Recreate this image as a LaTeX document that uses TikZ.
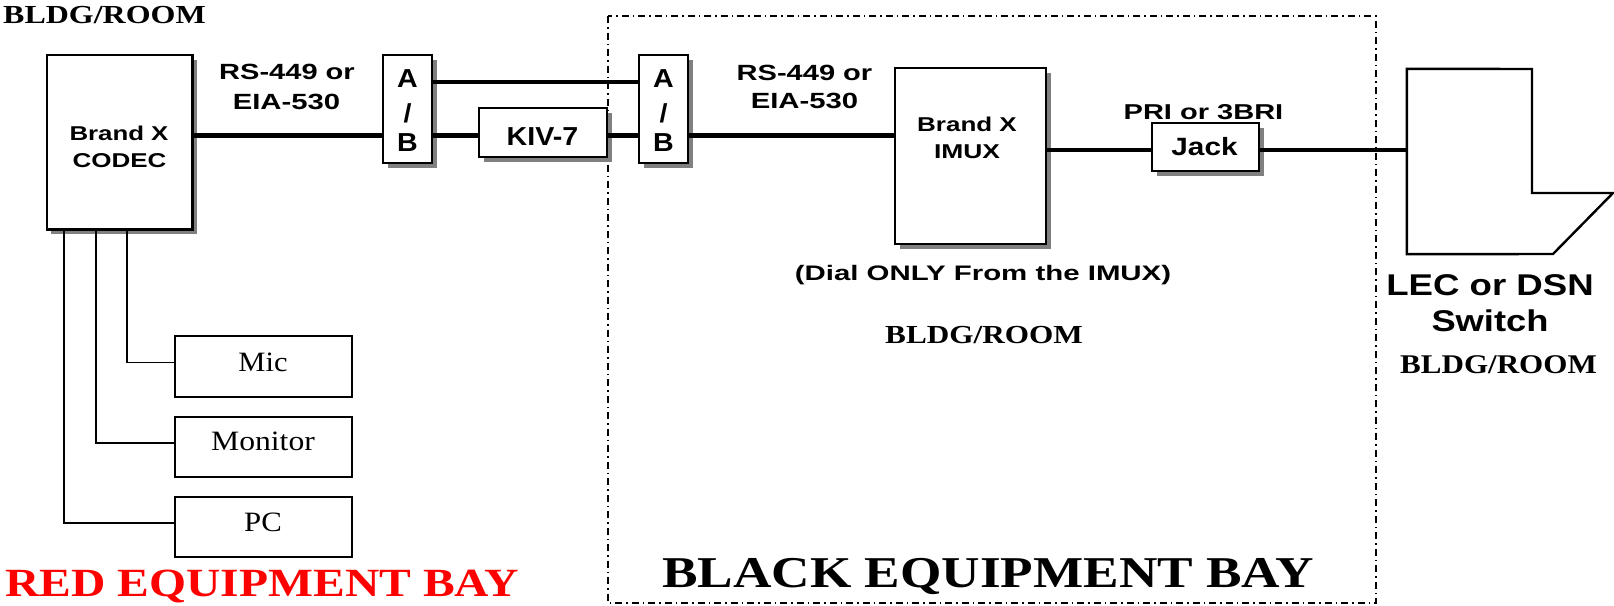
\documentclass[tikz,border=0pt]{standalone}
\usepackage{fontspec}
\usepackage{graphicx}
\usetikzlibrary{shadows}
\newfontfamily\serfont{Liberation Serif}
\newfontfamily\sanfont{Liberation Sans}
\newcommand{\hsc}[2]{\scalebox{#1}[1]{#2}}
\newcommand{\fsz}[1]{\fontsize{#1}{#1}\selectfont}
\begin{document}
\begin{tikzpicture}[x=1pt,y=-1pt,
  conn/.style={line width=4.2pt},
  wire/.style={line width=1.7pt},
  shbox/.style={draw, line width=2.4pt, fill=white, rectangle, inner sep=0pt,
     drop shadow={shadow xshift=4.5pt, shadow yshift=-4.5pt, fill=black!50, opacity=1}},
  plainbox/.style={draw, line width=2.4pt, fill=white, rectangle, inner sep=0pt},
  lbl/.style={inner sep=0pt, anchor=base},
  sans/.style={lbl, font=\sanfont\bfseries},
  serb/.style={lbl, font=\serfont\bfseries},
  serr/.style={lbl, font=\serfont},
  bay/.style={line width=1.3pt, dash pattern=on 7pt off 4pt on 1.5pt off 4pt},
  swline/.style={line width=2.4pt, line join=miter},
]
\useasboundingbox (0,0) rectangle (1614,605);

% black equipment bay boundary
\draw[bay] (608,16) rectangle (1376,603);

% routing coordinates
\coordinate (bus) at (0,135.5);
\coordinate (top) at (0,81.7);
\coordinate (isdn) at (0,150);

% boxes
\node[shbox, minimum width=145.6pt, minimum height=174.3pt] (codec) at (119.5,142.2) {};
\node[shbox, minimum width=49pt, minimum height=108pt] (ab1) at (407.5,109) {};
\node[shbox, minimum width=128pt, minimum height=49pt] (kiv) at (543,132.5) {};
\node[shbox, minimum width=49pt, minimum height=108pt] (ab2) at (663.5,109) {};
\node[shbox, minimum width=151pt, minimum height=176pt] (imux) at (970.5,156) {};
\node[shbox, minimum width=107pt, minimum height=48pt] (jack) at (1205.5,147) {};
\node[plainbox, minimum width=177pt, minimum height=61pt] (mic) at (263.5,366.5) {};
\node[plainbox, minimum width=177pt, minimum height=60pt] (mon) at (263.5,447) {};
\node[plainbox, minimum width=177pt, minimum height=60pt] (pc) at (263.5,527) {};
\node[inner sep=0pt, minimum width=206pt, minimum height=185pt] (sw) at (1510,161.5) {};
\draw[swline] (sw.north west) -- (1532,69) -- (1532,193) -- (1613,193) -- (1553,254) -- (sw.south west) -- cycle;

% connectors
\draw[conn] (codec.east |- bus) -- (ab1.west |- bus);
\draw[conn] (ab1.east |- top) -- (ab2.west |- top);
\draw[conn] (ab1.east |- bus) -- (kiv.west |- bus);
\draw[conn] (kiv.east |- bus) -- (ab2.west |- bus);
\draw[conn] (ab2.east |- bus) -- (imux.west |- bus);
\draw[conn] (imux.east |- isdn) -- (jack.west |- isdn);
\draw[conn] (jack.east |- isdn) -- (sw.west |- isdn);
\draw[wire] ([xshift=7.5pt]codec.south) |- ([yshift=4pt]mic.west);
\draw[wire] ([xshift=-23.5pt]codec.south) |- ([yshift=4pt]mon.west);
\draw[wire] ([xshift=-55.5pt]codec.south) |- ([yshift=4pt]pc.west);

% texts
\node[serb, anchor=base west] (bldg1) at (3,23.3) {\fsz{26}\hsc{1.23}{BLDG/ROOM}};
\node[sans] (codec1) at (119,140) {\fsz{20}\hsc{1.29}{Brand X}};
\node[sans] (codec2) at (119.5,167) {\fsz{20}\hsc{1.30}{CODEC}};
\node[sans] (rs1a) at (287,79.3) {\fsz{22}\hsc{1.32}{RS-449 or}};
\node[sans] (rs1b) at (286.5,109.3) {\fsz{22}\hsc{1.33}{EIA-530}};
\node[sans] (ab1a) at (407.5,87) {\fsz{26}\hsc{1.1}{A}};
\node[sans] (ab1s) at (407.5,122) {\fsz{26}\hsc{1.1}{/}};
\node[sans] (ab1b) at (407.5,151) {\fsz{26}\hsc{1.1}{B}};
\node[sans] (kivt) at (542.5,145) {\fsz{26}\hsc{1.1}{KIV-7}};
\node[sans] (ab2a) at (663.5,87) {\fsz{26}\hsc{1.1}{A}};
\node[sans] (ab2s) at (663.5,122) {\fsz{26}\hsc{1.1}{/}};
\node[sans] (ab2b) at (663.5,151) {\fsz{26}\hsc{1.1}{B}};
\node[sans] (rs2a) at (804.5,80) {\fsz{22}\hsc{1.32}{RS-449 or}};
\node[sans] (rs2b) at (804.5,108) {\fsz{22}\hsc{1.33}{EIA-530}};
\node[sans] (imux1) at (967,131.7) {\fsz{20}\hsc{1.30}{Brand X}};
\node[sans] (imux2) at (967,158.3) {\fsz{20}\hsc{1.32}{IMUX}};
\node[sans] (pri) at (1203.5,119.3) {\fsz{21.5}\hsc{1.35}{PRI or 3BRI}};
\node[sans] (jackt) at (1204.5,155) {\fsz{25}\hsc{1.19}{Jack}};
\node[sans] (dial) at (983,280) {\fsz{21}\hsc{1.4}{(Dial ONLY From the IMUX)}};
\node[serb] (bldg2) at (984,343) {\fsz{26}\hsc{1.2}{BLDG/ROOM}};
\node[sans] (lec1) at (1490,295) {\fsz{30}\hsc{1.22}{LEC or DSN}};
\node[sans] (lec2) at (1490,331.7) {\fsz{30}\hsc{1.21}{Switch}};
\node[serb] (bldg3) at (1498.5,373.3) {\fsz{27}\hsc{1.15}{BLDG/ROOM}};
\node[serr] (mict) at (263,371.7) {\fsz{28}\hsc{1.09}{Mic}};
\node[serr] (mont) at (263,450) {\fsz{28}\hsc{1.13}{Monitor}};
\node[serr] (pct) at (263,531.7) {\fsz{28}\hsc{1.1}{PC}};
\node[serb, anchor=base west, text=red] (red) at (5,596.7) {\fsz{40}\hsc{1.19}{RED EQUIPMENT BAY}};
\node[serb] (black) at (988,587) {\fsz{44}\hsc{1.21}{BLACK EQUIPMENT BAY}};
\end{tikzpicture}
\end{document}
